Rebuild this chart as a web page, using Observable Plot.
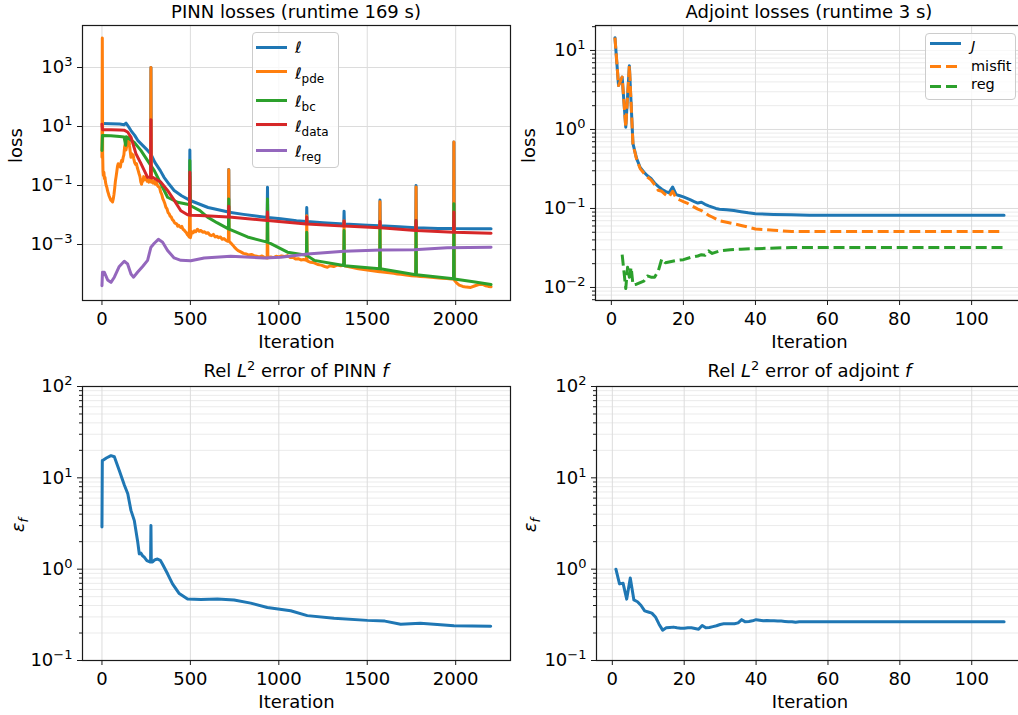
<!DOCTYPE html>
<html>
<head>
<meta charset="utf-8">
<script src="https://cdn.jsdelivr.net/npm/d3@7"></script>
<script src="https://cdn.jsdelivr.net/npm/@observablehq/plot@0.6"></script>
<style>
  html, body { margin: 0; padding: 0; background: #fff; overflow: hidden; }
  #fig { position: relative; width: 1018px; height: 715px; overflow: hidden;
         font-family: "DejaVu Sans", sans-serif; color: #000; }
  #fig svg { position: absolute; }
  .title { position: absolute; font-size: 18px; line-height: 18px; white-space: nowrap;
           transform: translateX(-50%); }
  .title sup { font-size: 13px; line-height: 0; vertical-align: 7px; }
  .ylab { position: absolute; font-size: 18px; line-height: 18px; white-space: nowrap;
          transform: translate(-50%, -50%) rotate(-90deg); }
  .ylab sub { font-size: 13px; line-height: 0; vertical-align: -4px; }
  .legend-box { position: absolute; border: 1px solid #cccccc; border-radius: 4px;
                background: rgba(255,255,255,0.8); box-sizing: border-box; }
  .leg-swatch { position: absolute; height: 3px; }
  .leg-text { position: absolute; font-size: 14.5px; line-height: 14.5px; white-space: nowrap; }
  .leg-text.big { font-size: 16px; line-height: 16px; }
  .leg-text sub { font-size: 12px; line-height: 0; vertical-align: -4px; }
</style>
</head>
<body>
<div id="fig"></div>
<script>
// ---------- data: PINN training losses, [iteration, value] ----------
const pinnLossTotal = [[2,12.6],[50,12.4],[100,12.1],[125,11.5],[136,13],[145,11],[164,7.3],[185,5],[202,3.4],[230,2.3],[258,1.55],[275,1.2],[277,1000],[279,1.1],[300,0.6],[330,0.32],[351,0.19],[380,0.11],[408,0.068],[450,0.045],[495,0.032],[497,1.6],[499,0.031],[600,0.018],[715,0.0126],[717,0.35],[719,0.0125],[800,0.0105],[934,0.0082],[936,0.087],[938,0.0082],[1011,0.0074],[1100,0.0064],[1156,0.006],[1158,0.018],[1160,0.006],[1250,0.0055],[1367,0.005],[1369,0.0135],[1371,0.005],[1500,0.0045],[1570,0.0043],[1572,0.032],[1574,0.0043],[1680,0.004],[1774,0.0037],[1776,0.1],[1778,0.0037],[1900,0.0035],[1988,0.0035],[1990,3.0],[1992,0.0035],[2100,0.0034],[2200,0.0034]];

const pinnLossPde = [[0,0.9],[2,10000],[4,1.2],[6,0.3],[8,0.22],[11,0.28],[14,0.17],[17,0.19],[20,0.13],[24,0.1],[28,0.085],[32,0.065],[36,0.055],[40,0.045],[45,0.038],[50,0.032],[55,0.03],[60,0.028],[64,0.035],[68,0.05],[72,0.08],[76,0.14],[80,0.2],[84,0.3],[88,0.45],[92,0.55],[96,0.45],[100,0.5],[104,0.42],[108,0.6],[112,0.72],[116,0.65],[120,0.9],[124,1.1],[128,2.0],[132,2.6],[136,1.6],[140,2.2],[144,3.0],[148,3.4],[152,4.4],[156,2.2],[160,1.4],[164,0.9],[168,1.2],[172,1.0],[176,1.1],[180,0.8],[185,0.6],[190,0.52],[195,0.55],[200,0.4],[205,0.32],[210,0.25],[215,0.2],[220,0.13],[224,0.11],[228,0.16],[232,0.14],[236,0.2],[240,0.18],[245,0.16],[250,0.2],[255,0.14],[260,0.15],[265,0.13],[270,0.16],[275,0.14],[277,1000],[279,0.13],[284,0.15],[290,0.12],[296,0.14],[302,0.11],[308,0.13],[314,0.1],[320,0.09],[326,0.085],[332,0.06],[338,0.05],[344,0.036],[350,0.03],[356,0.024],[362,0.018],[368,0.016],[374,0.012],[380,0.011],[386,0.009],[392,0.0085],[398,0.007],[404,0.0065],[410,0.0055],[416,0.0052],[422,0.005],[428,0.0042],[434,0.0045],[440,0.004],[446,0.0038],[452,0.0041],[458,0.0033],[464,0.0031],[470,0.0028],[476,0.0026],[482,0.0022],[488,0.002],[494,0.0018],[497,0.2],[500,0.0017],[504,0.0022],[510,0.0027],[516,0.0025],[522,0.0029],[530,0.0027],[540,0.0033],[550,0.0028],[560,0.003],[570,0.0026],[580,0.0027],[590,0.0024],[600,0.0025],[610,0.0021],[620,0.002],[630,0.0022],[640,0.0018],[650,0.0019],[660,0.0017],[670,0.0018],[680,0.0015],[690,0.0016],[700,0.0014],[710,0.0013],[715,0.0014],[717,0.34],[719,0.0013],[730,0.0011],[740,0.00095],[750,0.0008],[760,0.0007],[770,0.00062],[785,0.00056],[800,0.0005],[815,0.00048],[830,0.00044],[845,0.00046],[860,0.00042],[875,0.0004],[890,0.00038],[905,0.00041],[920,0.00036],[934,0.00035],[936,0.03],[938,0.00035],[955,0.00038],[970,0.00036],[985,0.0004],[1000,0.00038],[1015,0.00041],[1030,0.00039],[1049,0.00042],[1065,0.00036],[1080,0.00037],[1095,0.00032],[1110,0.00033],[1125,0.0003],[1140,0.00031],[1156,0.00029],[1158,0.0095],[1160,0.00028],[1180,0.00025],[1200,0.00024],[1220,0.00021],[1240,0.0002],[1260,0.00018],[1275,0.00017],[1290,0.00019],[1310,0.00018],[1330,0.0002],[1350,0.00019],[1367,0.0002],[1369,0.0063],[1371,0.00019],[1390,0.00018],[1410,0.00017],[1430,0.00016],[1450,0.00015],[1470,0.000145],[1490,0.00014],[1510,0.000135],[1530,0.00013],[1550,0.000125],[1570,0.00012],[1572,0.028],[1574,0.00012],[1600,0.000115],[1625,0.00011],[1650,0.000105],[1670,0.0001],[1690,0.000098],[1710,0.000095],[1730,0.00009],[1750,0.000088],[1774,0.000085],[1776,0.089],[1778,0.000085],[1800,0.000082],[1830,0.00008],[1860,0.000077],[1890,0.000075],[1920,0.000072],[1950,0.00007],[1975,0.000068],[1988,0.000068],[1990,3.0],[1992,0.000062],[2005,0.00005],[2020,0.000042],[2040,0.000038],[2060,0.000036],[2085,0.000035],[2110,0.00004],[2130,0.000044],[2150,0.000045],[2170,0.00004],[2185,0.000038],[2200,0.000037]];

const pinnLossBc = [[0,1.55],[3,5.0],[50,4.9],[100,4.6],[125,4.4],[134,2.3],[138,4.5],[164,3.5],[183,2.9],[220,1.55],[258,0.7],[296,0.32],[333,0.115],[371,0.04],[427,0.027],[484,0.023],[495,0.022],[497,0.7],[499,0.021],[554,0.014],[597,0.0085],[650,0.0055],[715,0.0034],[717,0.035],[719,0.0033],[823,0.0018],[934,0.0012],[936,0.035],[938,0.0012],[1049,0.00055],[1156,0.00043],[1158,0.0026],[1160,0.00042],[1200,0.00029],[1367,0.000195],[1369,0.003],[1371,0.00019],[1570,0.00015],[1572,0.004],[1574,0.00015],[1774,0.000095],[1776,0.0065],[1778,0.000095],[1988,0.000069],[1990,0.024],[1992,0.000068],[2100,0.000055],[2200,0.000044]];

const pinnLossData = [[0,12],[3,7.8],[50,7.8],[100,7.6],[125,7.5],[145,6.5],[164,4.4],[192,1.2],[220,0.56],[258,0.19],[275,0.19],[277,17],[279,0.18],[286,0.19],[333,0.13],[371,0.068],[408,0.032],[446,0.014],[484,0.0102],[495,0.0099],[497,0.28],[499,0.0098],[554,0.0097],[715,0.0085],[717,0.02],[719,0.0085],[934,0.0065],[936,0.0126],[938,0.0065],[1156,0.005],[1158,0.0085],[1160,0.005],[1367,0.0042],[1369,0.0063],[1371,0.0042],[1570,0.0037],[1572,0.006],[1574,0.0037],[1774,0.003],[1776,0.0065],[1778,0.003],[1988,0.0026],[1990,0.0126],[1992,0.0026],[2200,0.0024]];

const pinnLossReg = [[0,0.00004],[3,0.000115],[13,0.000115],[32,0.000063],[51,0.000052],[70,0.000078],[98,0.00018],[126,0.00027],[145,0.00022],[164,0.0001],[179,0.000078],[201,0.000115],[230,0.00018],[258,0.00029],[277,0.00081],[296,0.0011],[319,0.0015],[343,0.0012],[371,0.00063],[408,0.00035],[446,0.00029],[502,0.00028],[578,0.00035],[728,0.0004],[917,0.00035],[1011,0.00037],[1162,0.00048],[1369,0.00059],[1576,0.00065],[1764,0.00066],[1952,0.00077],[2200,0.00081]];

// ---------- data: adjoint optimisation losses ----------
const adjJ = [[1,14.5],[2,3.6],[3,4.6],[4,1.07],[5,6.4],[6,0.66],[7,0.43],[8,0.33],[9,0.29],[10,0.26],[11,0.24],[12,0.21],[13,0.19],[14,0.175],[15,0.165],[16,0.158],[17,0.187],[18,0.15],[19,0.145],[20,0.14],[21,0.134],[22,0.128],[23,0.122],[24,0.117],[25,0.12],[26,0.113],[27,0.108],[28,0.104],[29,0.1],[30,0.098],[32,0.096],[34,0.094],[36,0.091],[38,0.088],[40,0.086],[45,0.084],[50,0.083],[55,0.082],[109,0.082]];
const adjMisfit = [[1,14.5],[2,3.6],[3,4.6],[4,1.06],[5,6.4],[6,0.65],[7,0.42],[8,0.32],[9,0.28],[10,0.25],[11,0.23],[12,0.2],[13,0.17],[14,0.165],[15,0.15],[16,0.14],[17,0.165],[18,0.135],[19,0.128],[20,0.122],[21,0.117],[22,0.11],[23,0.104],[24,0.098],[25,0.094],[26,0.088],[27,0.082],[28,0.078],[30,0.07],[32,0.067],[34,0.064],[36,0.061],[38,0.058],[40,0.055],[45,0.053],[50,0.051],[55,0.051],[109,0.051]];
const adjReg = [[3,0.026],[4,0.0097],[4.5,0.018],[5,0.0135],[5.5,0.018],[6,0.0108],[7,0.011],[8,0.0115],[9,0.012],[10,0.014],[11,0.0135],[12,0.0135],[13,0.016],[14,0.023],[15,0.0205],[16,0.021],[17,0.0215],[18,0.022],[20,0.0225],[22,0.024],[24,0.025],[25,0.026],[26,0.0255],[27,0.029],[28,0.027],[30,0.029],[33,0.03],[36,0.0305],[40,0.031],[50,0.032],[109,0.032]];

// ---------- data: relative L2 error of f ----------
const pinnErr = [[0,2.9],[2,15.5],[4,15.5],[25,16.5],[51,17.5],[70,17],[98,12],[127,8.3],[146,6.7],[164,4.4],[183,3.4],[202,2.0],[211,1.47],[220,1.5],[230,1.4],[240,1.35],[254,1.24],[271,1.2],[275,1.25],[277,3.0],[279,1.2],[286,1.2],[300,1.27],[314,1.29],[330,1.25],[342,1.14],[371,0.89],[399,0.69],[437,0.54],[484,0.47],[559,0.465],[653,0.47],[747,0.46],[841,0.425],[935,0.38],[1067,0.35],[1161,0.31],[1312,0.29],[1500,0.275],[1600,0.27],[1689,0.25],[1800,0.255],[1877,0.25],[1990,0.24],[2198,0.237]];
const adjErr = [[1,1.0],[2,0.69],[3,0.7],[4,0.47],[5,0.8],[6,0.46],[7,0.44],[8,0.4],[9,0.35],[10,0.34],[11,0.33],[12,0.3],[13,0.25],[14,0.215],[15,0.228],[16,0.23],[17,0.232],[18,0.228],[19,0.225],[20,0.225],[21,0.228],[22,0.228],[23,0.224],[24,0.22],[25,0.242],[26,0.228],[27,0.23],[28,0.235],[29,0.24],[30,0.248],[31,0.252],[32,0.252],[33,0.252],[34,0.253],[35,0.258],[36,0.28],[37,0.265],[38,0.268],[39,0.272],[40,0.28],[41,0.276],[42,0.272],[43,0.274],[44,0.272],[45,0.272],[46,0.27],[47,0.27],[48,0.268],[49,0.266],[50,0.266],[51,0.262],[52,0.265],[109,0.265]];

// ---------- ticks and labels ----------
const pinnIterTicks = [0, 500, 1000, 1500, 2000];
const adjIterTicks = [0, 20, 40, 60, 80, 100];
const pinnLossTicks = [1e-3, 1e-1, 1e1, 1e3];
const adjLossTicks = [1e-2, 1e-1, 1, 10];
const errTicks = [0.1, 1, 10, 100];
const pinnLegendLabels = ["ℓ", "ℓ<sub>pde</sub>", "ℓ<sub>bc</sub>", "ℓ<sub>data</sub>", "ℓ<sub>reg</sub>"];
const adjLegendLabels = ["<i>J</i>", "misfit", "reg"];

const C = {blue: "#1f77b4", orange: "#ff7f0e", green: "#2ca02c", red: "#d62728", purple: "#9467bd"};
const LW = 3;
const DASH = "11,4.8";

const fig = document.getElementById("fig");

function minorTicks([lo, hi]) {
  const out = [];
  for (let e = Math.floor(Math.log10(lo)); e <= Math.ceil(Math.log10(hi)); e++)
    for (let k = 2; k <= 9; k++) { const v = k * 10 ** e; if (v >= lo && v <= hi) out.push(v); }
  return out;
}

// turn "10^n" tick strings into a base with a raised exponent
function superscriptTicks(svg) {
  for (const t of svg.querySelectorAll("text")) {
    const m = /^10\^(.+)$/.exec(t.textContent);
    if (!m) continue;
    t.textContent = "10";
    const s = document.createElementNS("http://www.w3.org/2000/svg", "tspan");
    s.setAttribute("font-size", "13");
    s.setAttribute("dy", "-7");
    s.textContent = m[1];
    t.appendChild(s);
  }
}

const expFormat = d => "10^" + String(Math.round(Math.log10(d))).replace("-", "−");

function panel({left, top, width, height, m, xDomain, yDomain, xTicks, yTicks, minor, lines, yLabel}) {
  const yMinor = minor ? minorTicks(yDomain) : [];
  const chart = Plot.plot({
    width, height,
    marginTop: m[0], marginRight: m[1], marginBottom: m[2], marginLeft: m[3],
    style: {fontFamily: "DejaVu Sans", fontSize: "18px", background: "transparent", color: "#000", overflow: "visible"},
    x: {domain: xDomain},
    y: {type: "log", domain: yDomain},
    marks: [
      Plot.gridY(yMinor, {stroke: "#ebebeb", strokeOpacity: 1, strokeWidth: 1}),
      Plot.gridY(yTicks, {stroke: "#dcdcdc", strokeOpacity: 1, strokeWidth: 1}),
      Plot.gridX(xTicks, {stroke: "#dcdcdc", strokeOpacity: 1, strokeWidth: 1}),
      ...lines.map(([data, color, dash]) => Plot.line(data, {
        x: d => d[0], y: d => d[1], stroke: color, strokeWidth: LW,
        strokeDasharray: dash ? DASH : undefined, strokeLinecap: dash ? "butt" : "round"
      })),
      Plot.frame({stroke: "#1a1a1a", strokeWidth: 1.2}),
      Plot.axisX({ticks: xTicks, tickSize: 5, tickPadding: 7, label: null, tickFormat: d => String(d), stroke: "#1a1a1a"}),
      Plot.axisY({ticks: yTicks, tickSize: 5, tickPadding: 5, label: null, tickFormat: expFormat, stroke: "#1a1a1a"}),
      minor ? Plot.axisY({ticks: yMinor, tickSize: 3, fill: "none", label: null, stroke: "#1a1a1a"}) : null,
      Plot.text(["Iteration"], {text: d => d, frameAnchor: "bottom", lineAnchor: "middle", dy: 42, fontSize: 18, fill: "#000"}),
      yLabel ? Plot.text([yLabel], {text: d => d, frameAnchor: "left", lineAnchor: "middle", dx: -66, rotate: -90, fontSize: 18, fill: "#000"}) : null
    ]
  });
  chart.style.left = left + "px";
  chart.style.top = top + "px";
  superscriptTicks(chart);
  fig.appendChild(chart);
}

// top-left: PINN losses
panel({
  left: 0, top: 0, width: 515, height: 345, m: [25, 5, 45, 82],
  xDomain: [-110, 2310], yDomain: [10 ** -4.898, 10 ** 4.424],
  xTicks: pinnIterTicks, yTicks: pinnLossTicks, minor: false, yLabel: "loss",
  lines: [[pinnLossTotal, C.blue], [pinnLossPde, C.orange], [pinnLossBc, C.green], [pinnLossData, C.red], [pinnLossReg, C.purple]]
});

// top-right: adjoint losses
panel({
  left: 515, top: 0, width: 513, height: 345, m: [25, 5, 45, 80],
  xDomain: [-4.4, 114.4], yDomain: [10 ** -2.165, 10 ** 1.316],
  xTicks: adjIterTicks, yTicks: adjLossTicks, minor: true, yLabel: "loss",
  lines: [[adjJ, C.blue], [adjMisfit, C.orange, true], [adjReg, C.green, true]]
});

// bottom-left: PINN error
panel({
  left: 0, top: 345, width: 515, height: 370, m: [41, 5, 55, 82],
  xDomain: [-110, 2310], yDomain: [0.1, 100],
  xTicks: pinnIterTicks, yTicks: errTicks, minor: true, yLabel: null,
  lines: [[pinnErr, C.blue]]
});

// bottom-right: adjoint error
panel({
  left: 515, top: 345, width: 513, height: 370, m: [41, 5, 55, 81],
  xDomain: [-4.4, 114.4], yDomain: [0.1, 100],
  xTicks: adjIterTicks, yTicks: errTicks, minor: true, yLabel: null,
  lines: [[adjErr, C.blue]]
});

// titles and rich-text labels
function addHTML(cls, html, css) {
  const el = document.createElement("div");
  el.className = cls;
  el.innerHTML = html;
  Object.assign(el.style, css);
  fig.appendChild(el);
  return el;
}
addHTML("title", "PINN losses (runtime 169 s)", {left: "296px", top: "3px"});
addHTML("title", "Adjoint losses (runtime 3 s)", {left: "809px", top: "3px"});
addHTML("title", "Rel <i>L</i><sup>2</sup> error of PINN <i>f</i>", {left: "296px", top: "362px"});
addHTML("title", "Rel <i>L</i><sup>2</sup> error of adjoint <i>f</i>", {left: "809.5px", top: "362px"});
addHTML("ylab", "<i>ε</i><sub><i>f</i></sub>", {left: "17.5px", top: "525px"});
addHTML("ylab", "<i>ε</i><sub><i>f</i></sub>", {left: "530px", top: "525px"});

// legends
function legend(box, rows, big) {
  addHTML("legend-box", "", {left: box[0] + "px", top: box[1] + "px", width: box[2] + "px", height: box[3] + "px"});
  for (const r of rows) {
    const bg = r.dash
      ? `repeating-linear-gradient(to right, ${r.color} 0 11px, transparent 11px 15.8px)`
      : r.color;
    addHTML("leg-swatch", "", {left: r.x0 + "px", width: "31px", top: (r.cy - 1.5) + "px", background: bg});
    addHTML("leg-text" + (big ? " big" : ""), r.label, {left: r.tx + "px", top: (r.base - (big ? 13.5 : 12.3)) + "px"});
  }
}
const pinnColors = [C.blue, C.orange, C.green, C.red, C.purple];
const pinnHandleY = [47.3, 71.7, 100, 124.3, 150.7];
const pinnBaseY = [53, 79, 107, 132, 157];
legend([252, 32, 87, 136], pinnLegendLabels.map((label, i) => ({
  label, color: pinnColors[i], cy: pinnHandleY[i], base: pinnBaseY[i], x0: 256, tx: 295
})), true);
const adjColors = [C.blue, C.orange, C.green];
const adjHandleY = [43.3, 66.7, 86.7];
const adjBaseY = [51, 71.5, 89.5];
legend([925, 33, 91, 67], adjLegendLabels.map((label, i) => ({
  label, color: adjColors[i], dash: i > 0, cy: adjHandleY[i], base: adjBaseY[i], x0: 930, tx: 971
})), false);
</script>
</body>
</html>
